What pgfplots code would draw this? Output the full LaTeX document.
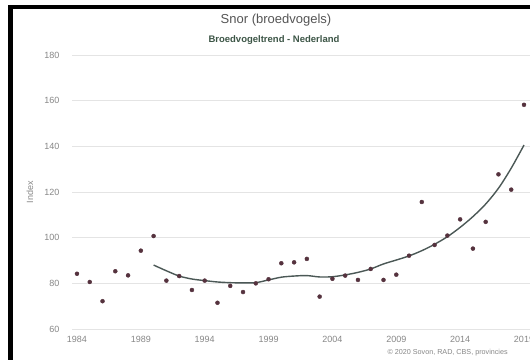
\documentclass[border=0pt]{standalone}
\usepackage{pgfplots}
\pgfplotsset{compat=1.18}
\usepackage{fontspec}
\setmainfont{Liberation Sans}
\definecolor{dotc}{RGB}{85,50,62}
\definecolor{trendc}{RGB}{75,88,86}
\definecolor{gridc}{RGB}{228,228,228}
\definecolor{labc}{RGB}{135,135,135}
\definecolor{titlec}{RGB}{85,85,85}
\definecolor{subc}{RGB}{60,85,70}
\begin{document}
\begin{tikzpicture}[x=1pt,y=1pt]
\path[use as bounding box] (0,0) rectangle (530,360);
\fill[white] (0,0) rectangle (530,360);
\fill[black] (8,0) rectangle (12.5,355.5);
\fill[black] (8,351) rectangle (530,355.5);
\node[text=titlec,font=\fontsize{13}{15}\selectfont] at (276,340) {Snor (broedvogels)};
\node[text=subc,font=\fontsize{9.5}{11}\selectfont\bfseries] at (274,320) {Broedvogeltrend - Nederland};
\node[text=labc,rotate=90,font=\fontsize{9}{10}\selectfont] at (30,168) {Index};
\node[text=labc,anchor=west,font=\fontsize{7.2}{8}\selectfont] at (384,7) {© 2020 Sovon, RAD, CBS, provincies};
\begin{axis}[
  at={(72pt,30.7pt)}, anchor=south west,
  scale only axis, width=458pt, height=274.3pt,
  xmin=1983.61, xmax=2019.47, ymin=60, ymax=180,
  ytick={60,80,...,180}, xtick={1984,1989,...,2019},
  axis line style={draw=none},
  major tick length=0pt,
  ymajorgrids, grid style={gridc, line width=0.8pt},
  x tick label style={/pgf/number format/1000 sep={}, text=labc, font=\fontsize{9}{10}\selectfont, yshift=-3pt},
  y tick label style={text=labc, font=\fontsize{9}{10}\selectfont, xshift=-9pt},
  /pgf/number format/assume math mode=true,
  clip=false,
]
\addplot[only marks, mark=*, mark size=2pt, mark options={fill=dotc, draw=dotc}] coordinates {
(1984,84.3) (1985,80.7) (1986,72.3) (1987,85.4) (1988,83.6) (1989,94.4)
(1990,100.8) (1991,81.3) (1992,83.3) (1993,77.2) (1994,81.3) (1995,71.6)
(1996,79.0) (1997,76.3) (1998,80.1) (1999,81.9) (2000,88.9) (2001,89.3)
(2002,90.8) (2003,74.3) (2004,82.1) (2005,83.5) (2006,81.6) (2007,86.4)
(2008,81.6) (2009,83.9) (2010,92.2) (2011,115.7) (2012,96.9) (2013,101.0)
(2014,108.1) (2015,95.3) (2016,107.0) (2017,127.8) (2018,121.1) (2019,158.2)
};
\addplot[trendc, line width=1.4pt, smooth, tension=0.5] coordinates {
(1990,88.1) (1991,85.6) (1992,83.3) (1993,82.0) (1994,81.3) (1995,80.7)
(1996,80.4) (1997,80.3) (1998,80.4) (1999,81.6) (2000,82.8) (2001,83.3)
(2002,83.5) (2003,82.9) (2004,83.0) (2005,83.8) (2006,84.9) (2007,86.4)
(2008,88.6) (2009,90.3) (2010,92.1) (2011,94.4) (2012,97.2) (2013,100.5)
(2014,104.6) (2015,109.3) (2016,114.8) (2017,121.7) (2018,130.5) (2019,140.6)
};
\end{axis}
\end{tikzpicture}
\end{document}
